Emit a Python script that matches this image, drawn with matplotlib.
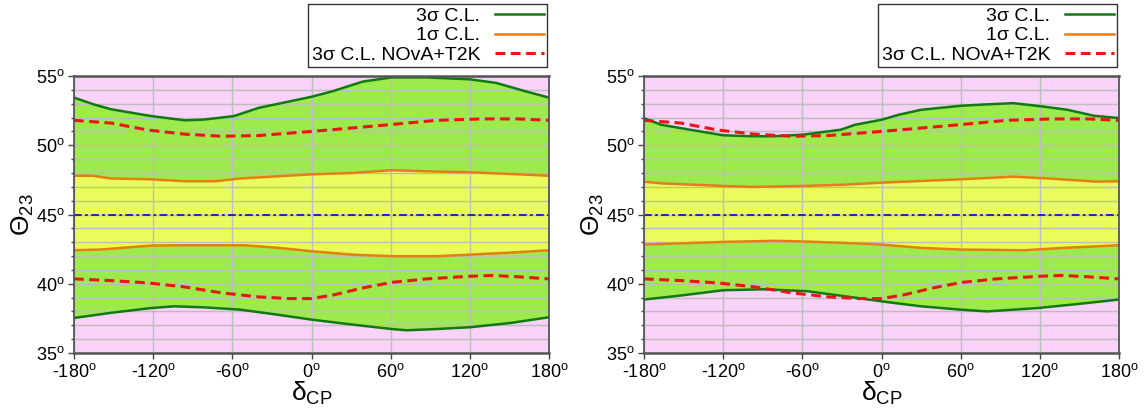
import numpy as np
import matplotlib
matplotlib.use("Agg")
import matplotlib.pyplot as plt
from matplotlib.ticker import MultipleLocator, FixedLocator

plt.rcParams['font.family'] = ['Liberation Sans', 'DejaVu Sans']
plt.rcParams['mathtext.fontset'] = 'custom'
plt.rcParams['mathtext.rm'] = 'Liberation Sans'
plt.rcParams['mathtext.it'] = 'Liberation Sans:italic'
plt.rcParams['mathtext.default'] = 'regular'

# ---------------- data ----------------
# shared NOvA+T2K 3 sigma contour
nt_up_d = [-180, -152, -124, -96, -68, -40, 0, 31, 61, 95, 129, 157, 180]
nt_up_t = [51.8, 51.6, 51.1, 50.8, 50.65, 50.7, 51.0, 51.25, 51.5, 51.8, 51.9, 51.9, 51.8]
nt_lo_d = [-180, -152, -124, -96, -68, -40, -17, 0, 17, 39, 61, 87, 120, 137, 157, 180]
nt_lo_t = [40.35, 40.23, 40.06, 39.77, 39.34, 39.05, 38.93, 38.93, 39.2, 39.7, 40.1, 40.35, 40.54, 40.6, 40.5, 40.35]

# left panel
L_s3_up_d = [-180, -165, -152, -121, -96, -82, -59, -40, 0, 16, 39, 61, 87, 120, 140, 162, 180]
L_s3_up_t = [53.44, 52.95, 52.6, 52.1, 51.8, 51.85, 52.1, 52.7, 53.5, 53.9, 54.6, 54.9, 54.9, 54.76, 54.5, 53.9, 53.44]
L_s3_lo_d = [-180, -152, -121, -104, -82, -54, -26, 0, 31, 61, 72, 95, 120, 151, 180]
L_s3_lo_t = [37.53, 37.9, 38.25, 38.37, 38.3, 38.13, 37.77, 37.41, 37.05, 36.73, 36.64, 36.73, 36.86, 37.17, 37.58]
L_s1_up_d = [-180, -166, -152, -124, -96, -73, -54, 0, 31, 61, 95, 120, 157, 180]
L_s1_up_t = [47.8, 47.8, 47.6, 47.55, 47.4, 47.4, 47.6, 47.9, 48.0, 48.2, 48.1, 48.05, 47.9, 47.8]
L_s1_lo_d = [-180, -160, -121, -96, -51, -26, 0, 31, 61, 95, 120, 157, 180]
L_s1_lo_t = [42.42, 42.47, 42.76, 42.78, 42.78, 42.6, 42.35, 42.1, 41.99, 41.99, 42.1, 42.28, 42.42]

# right panel
R_s3_up_d = [-180, -167, -145, -120, -98, -81, -59, -31, -20, 0, 13, 30, 60, 77, 100, 122, 141, 161, 180]
R_s3_up_t = [51.96, 51.48, 51.12, 50.72, 50.65, 50.65, 50.77, 51.12, 51.48, 51.84, 52.2, 52.56, 52.85, 52.94, 53.04, 52.8, 52.56, 52.13, 51.96]
R_s3_lo_d = [-180, -153, -120, -89, -56, -28, 0, 30, 60, 80, 119, 152, 180]
R_s3_lo_t = [38.86, 39.14, 39.53, 39.6, 39.46, 39.1, 38.73, 38.37, 38.13, 38.0, 38.25, 38.57, 38.86]
R_s1_up_d = [-180, -167, -120, -98, -59, -29, 0, 30, 60, 100, 125, 163, 180]
R_s1_up_t = [47.37, 47.25, 47.06, 46.99, 47.06, 47.15, 47.3, 47.42, 47.54, 47.73, 47.61, 47.37, 47.4]
R_s1_lo_d = [-180, -120, -81, -59, -29, 0, 30, 60, 108, 138, 180]
R_s1_lo_t = [42.83, 43.02, 43.1, 43.05, 42.95, 42.83, 42.59, 42.47, 42.42, 42.59, 42.78]

xticks = [-180, -120, -60, 0, 60, 120, 180]
yticks = [35, 40, 45, 50, 55]
maximal_line = 45.0

legend_labels = ['3σ C.L.', '1σ C.L.', '3σ C.L. NOvA+T2K']

# ---------------- style ----------------
PINK = '#F8D2F8'
GREEN_FILL = '#9DEA4C'
YELLOW_FILL = '#EAFB5C'
GREEN_LINE = '#107A10'
ORANGE = '#E67E12'
RED = '#E81616'
BLUE = '#2222CC'
GRID = '#BDBDBD'

W, H = 1144, 409
fig = plt.figure(figsize=(W / 100, H / 100), dpi=100)

def axbox(x0, x1, y0, y1):
    return [x0 / W, 1 - y1 / H, (x1 - x0) / W, (y1 - y0) / H]

panels = [
    (axbox(74, 549, 76, 353), L_s3_up_d, L_s3_up_t, L_s3_lo_d, L_s3_lo_t,
     L_s1_up_d, L_s1_up_t, L_s1_lo_d, L_s1_lo_t),
    (axbox(644, 1119, 76, 353), R_s3_up_d, R_s3_up_t, R_s3_lo_d, R_s3_lo_t,
     R_s1_up_d, R_s1_up_t, R_s1_lo_d, R_s1_lo_t),
]

for (box, s3ud, s3ut, s3ld, s3lt, s1ud, s1ut, s1ld, s1lt) in panels:
    ax = fig.add_axes(box)
    ax.set_facecolor(PINK)
    ax.set_xlim(-180, 180)
    ax.set_ylim(35, 55)

    # fills
    ax.fill(np.concatenate([s3ud, s3ld[::-1]]), np.concatenate([s3ut, s3lt[::-1]]),
            color=GREEN_FILL, lw=0, zorder=1)
    ax.fill(np.concatenate([s1ud, s1ld[::-1]]), np.concatenate([s1ut, s1lt[::-1]]),
            color=YELLOW_FILL, lw=0, zorder=1.1)

    # grid above fills
    ax.xaxis.set_major_locator(FixedLocator(xticks))
    ax.yaxis.set_major_locator(FixedLocator(yticks))
    ax.yaxis.set_minor_locator(MultipleLocator(1))
    ax.grid(True, which='major', axis='both', color=GRID, lw=1.0)
    ax.grid(True, which='minor', axis='y', color=GRID, lw=1.0)
    ax.set_axisbelow(False)

    # lines
    l3, = ax.plot(s3ud, s3ut, color=GREEN_LINE, lw=1.8, zorder=4, solid_joinstyle='round')
    ax.plot(s3ld, s3lt, color=GREEN_LINE, lw=1.8, zorder=4, solid_joinstyle='round')
    l1, = ax.plot(s1ud, s1ut, color=ORANGE, lw=1.8, zorder=4, solid_joinstyle='round')
    ax.plot(s1ld, s1lt, color=ORANGE, lw=1.8, zorder=4, solid_joinstyle='round')
    ln, = ax.plot(nt_up_d, nt_up_t, color=RED, lw=2.2, dashes=(3.2, 1.8), zorder=5)
    ax.plot(nt_lo_d, nt_lo_t, color=RED, lw=2.2, dashes=(3.2, 1.8), zorder=5)
    ax.axhline(maximal_line, color=BLUE, lw=1.4, dashes=(4, 1.7, 1.4, 1.7), zorder=5)

    ax.set_xticklabels([f'{v}$^{{o}}$' for v in xticks])
    ax.set_yticklabels([f'{v}$^{{o}}$' for v in yticks])
    ax.tick_params(axis='both', which='major', direction='out', length=4, width=1,
                   color='#444444', labelsize=13, top=False, right=False, pad=3)
    ax.tick_params(axis='y', which='minor', direction='out', length=2.5, width=1,
                   color='#444444', right=False)

    for name, sp in ax.spines.items():
        sp.set_color('#555555')
        sp.set_linewidth(1.3 if name in ('left', 'right') else 1.8)
        sp.set_zorder(6)

    ax.set_xlabel('δ$_{CP}$', fontsize=19, labelpad=-1)
    ax.set_ylabel(r'$\Theta_{23}$', fontsize=19, labelpad=0)

    leg = ax.legend([l3, l1, ln], legend_labels, loc='lower right',
                    bbox_to_anchor=((547 - 74) / 475, 1 + 9 / 277), borderaxespad=0,
                    markerfirst=False, fancybox=False, frameon=True, fontsize=14,
                    handlelength=2.5, handletextpad=0.75, labelspacing=0.08,
                    borderpad=0.18)
    leg.get_frame().set_edgecolor('black')
    leg.get_frame().set_linewidth(1.0)

fig.savefig('out.png', dpi=100)
